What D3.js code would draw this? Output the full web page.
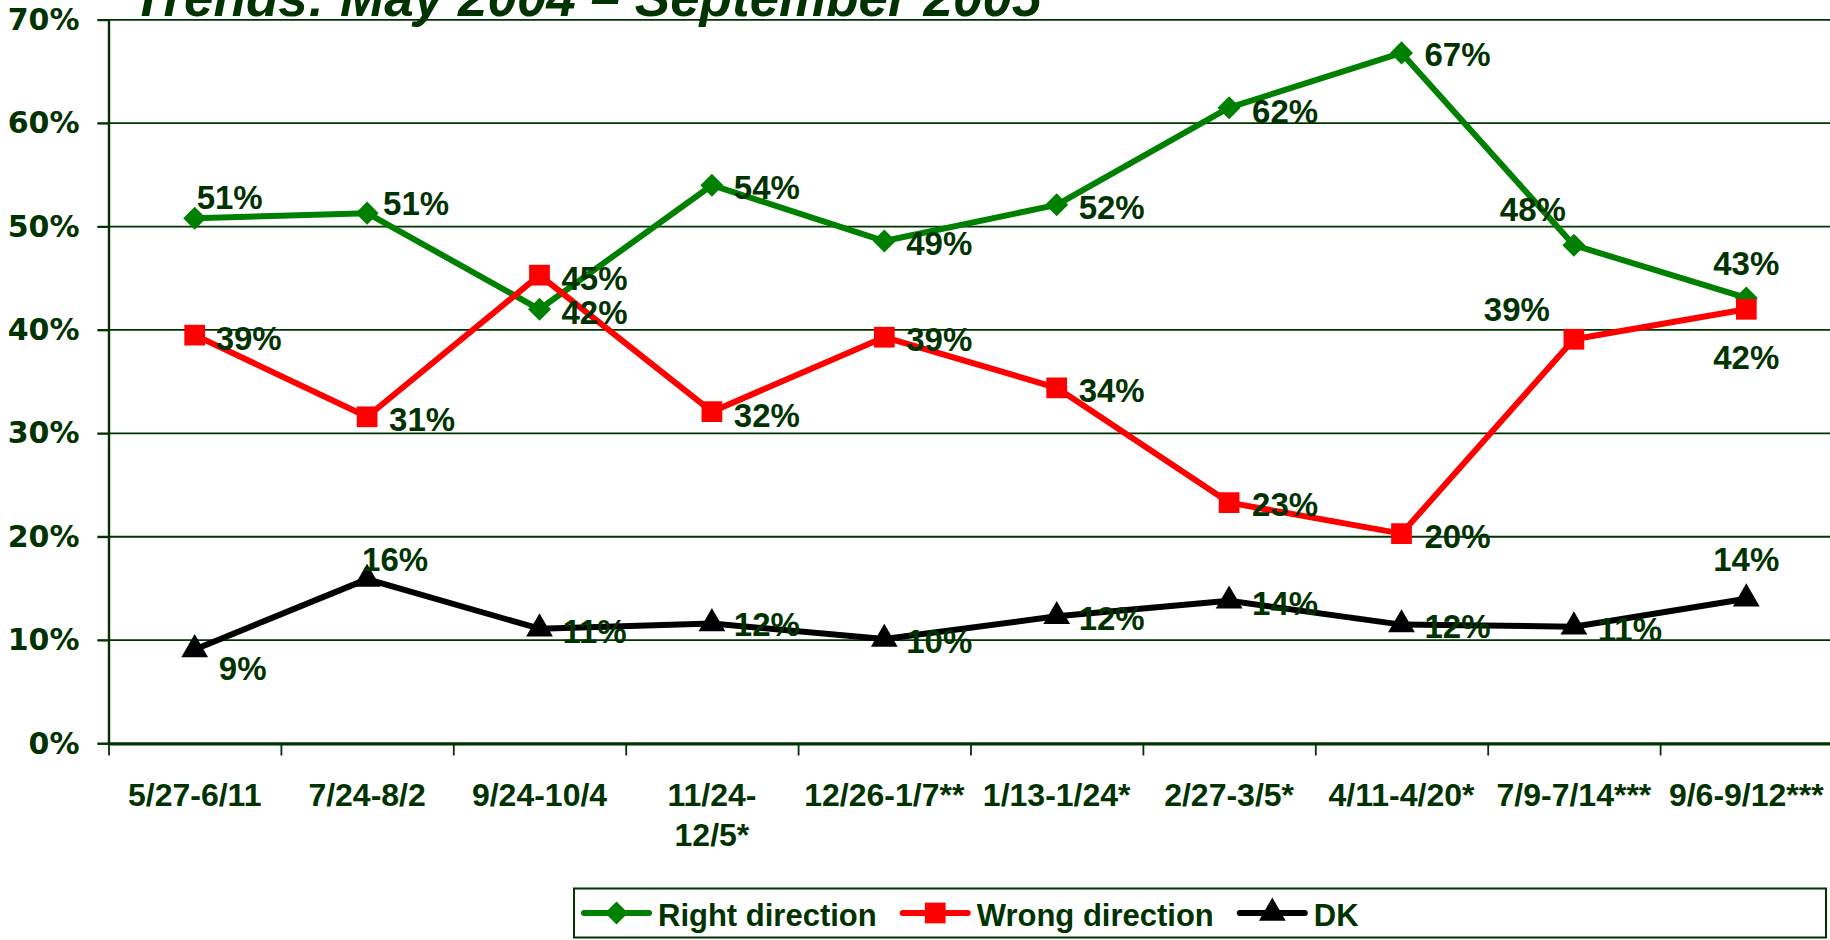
<!DOCTYPE html>
<html>
<head>
<meta charset="utf-8">
<script src="https://cdn.jsdelivr.net/npm/d3@7"></script>
<style>
body { margin: 0; background: #fff; }
svg { display: block; }
</style>
</head>
<body>
<div id="chart"></div>
<script>
// survey periods (x categories)
var categories = ["5/27-6/11", "7/24-8/2", "9/24-10/4", "11/24-\n12/5*", "12/26-1/7**",
                  "1/13-1/24*", "2/27-3/5*", "4/11-4/20*", "7/9-7/14***", "9/6-9/12***"];

// series values, in percent
var rightDir = [50.8, 51.3, 42.0, 54.0, 48.6, 52.1, 61.5, 66.8, 48.2, 43.1];
var wrongDir = [39.5, 31.6, 45.3, 32.1, 39.3, 34.4, 23.3, 20.3, 39.1, 42.0];
var dkVals   = [9.1, 15.9, 11.1, 11.6, 10.1, 12.3, 13.8, 11.5, 11.3, 14.0];

// data labels as printed on the chart
var rightLbl = ["51%", "51%", "42%", "54%", "49%", "52%", "62%", "67%", "48%", "43%"];
var wrongLbl = ["39%", "31%", "45%", "32%", "39%", "34%", "23%", "20%", "39%", "42%"];
var dkLbl    = ["9%", "16%", "11%", "12%", "10%", "12%", "14%", "12%", "11%", "14%"];

var yTicks = [0, 10, 20, 30, 40, 50, 60, 70];
var seriesNames = ["Right direction", "Wrong direction", "DK"];
var title = "Trends: May 2004 \u2013 September 2005";

// ---- layout / style ----
var w = 1830, h = 940;
var x0 = 108.5, x1 = 1832.5;
var yTop = 19.8, yBot = 743.5;
var textCol = "#003300";
var colors = ["#008000", "#ff0000", "#000000"];

// where each data label sits relative to its point [dx, dy]
var labelOffsets = [
	[[35,-21],[49,-10],[55,3],[55,2],[55,2],[55,2],[56,3],[56,1],[-41,-36],[0,-35]],
	[[54,3],[55,2],[55,3],[55,3],[55,2],[55,2],[56,2],[56,2],[-57,-30],[0,48]],
	[[48,19],[28,-20],[55,2],[55,1],[55,2],[55,2],[56,2],[56,2],[56,2],[0,-40]]
];

var series = [
	{ name: seriesNames[0], values: rightDir, labels: rightLbl, color: colors[0],
	  symbol: d3.symbol(d3.symbolSquare, 265), rot: 45 },
	{ name: seriesNames[1], values: wrongDir, labels: wrongLbl, color: colors[1],
	  symbol: d3.symbol(d3.symbolSquare, 430), rot: 0 },
	{ name: seriesNames[2], values: dkVals, labels: dkLbl, color: colors[2],
	  symbol: d3.symbol(d3.symbolTriangle, 310), rot: 0 }
];

var svg = d3.select("#chart").append("svg")
	.attr("width", w)
	.attr("height", h);

// scales
var xScale = d3.scaleBand().domain(categories).range([x0, x1]);
var xEdge = d3.scaleLinear().domain([0, categories.length]).range([x0, x1]);
var yScale = d3.scaleLinear().domain([0, 70]).range([yBot, yTop]);
var cx = function(i) { return xScale(categories[i]) + xScale.bandwidth() / 2; };

// gridlines
svg.append("g").selectAll("line")
	.data(yTicks)
	.enter()
	.append("line")
	.attr("x1", x0 - 11)
	.attr("x2", w)
	.attr("y1", function(d) { return yScale(d); })
	.attr("y2", function(d) { return yScale(d); })
	.attr("stroke", textCol)
	.attr("stroke-width", 1.8);

// y axis
var yAxis = svg.append("g")
	.attr("transform", "translate(" + x0 + ",0)")
	.call(d3.axisLeft(yScale).tickValues(yTicks).tickSize(11).tickSizeOuter(0)
		.tickPadding(18).tickFormat(function(d) { return d + "%"; }));
yAxis.select(".domain").attr("stroke", textCol).attr("stroke-width", 2.4);
yAxis.selectAll(".tick line").attr("stroke", textCol).attr("stroke-width", 1.8);
yAxis.selectAll(".tick text")
	.attr("fill", textCol)
	.style("font-family", "'DejaVu Sans', Verdana, sans-serif")
	.style("font-weight", "bold")
	.style("font-size", "30px");

// x axis (ticks at category boundaries)
var xAxis = svg.append("g")
	.attr("transform", "translate(0," + yBot + ")")
	.call(d3.axisBottom(xEdge).tickValues(d3.range(0, categories.length + 1))
		.tickSize(12).tickSizeOuter(0).tickFormat(""));
xAxis.select(".domain").attr("stroke", textCol).attr("stroke-width", 3);
xAxis.selectAll(".tick line").attr("stroke", textCol).attr("stroke-width", 1.8);

// x labels
var xl = svg.append("g").selectAll("text")
	.data(categories)
	.enter()
	.append("text")
	.attr("x", function(d, i) { return cx(i); })
	.attr("y", 806)
	.attr("text-anchor", "middle")
	.attr("fill", textCol)
	.style("font-family", "'Liberation Sans', Arial, sans-serif")
	.style("font-weight", "bold")
	.style("font-size", "32px");
xl.each(function(d) {
	var t = d3.select(this);
	d.split("\n").forEach(function(part, k) {
		t.append("tspan")
			.attr("x", t.attr("x"))
			.attr("dy", k == 0 ? 0 : 40)
			.text(part);
	});
});

// lines
var line = d3.line()
	.x(function(d, i) { return cx(i); })
	.y(function(d) { return yScale(d); });

series.forEach(function(s) {
	svg.append("path")
		.datum(s.values)
		.attr("d", line)
		.attr("fill", "none")
		.attr("stroke", s.color)
		.attr("stroke-width", 6)
		.attr("stroke-linejoin", "round");
	svg.append("g").selectAll("path")
		.data(s.values)
		.enter()
		.append("path")
		.attr("d", s.symbol)
		.attr("transform", function(d, i) {
			return "translate(" + cx(i) + "," + yScale(d) + ") rotate(" + s.rot + ")";
		})
		.attr("fill", s.color);
});

// data labels
series.forEach(function(s, si) {
	svg.append("g").selectAll("text")
		.data(s.values)
		.enter()
		.append("text")
		.attr("x", function(d, i) { return cx(i) + labelOffsets[si][i][0]; })
		.attr("y", function(d, i) { return yScale(d) + labelOffsets[si][i][1]; })
		.attr("dy", "0.36em")
		.attr("text-anchor", "middle")
		.attr("fill", textCol)
		.style("font-family", "'Liberation Sans', Arial, sans-serif")
		.style("font-weight", "bold")
		.style("font-size", "33px")
		.text(function(d, i) { return s.labels[i]; });
});

// title (partly cut off at the top, as in the original)
svg.append("text")
	.attr("x", 132)
	.attr("y", 16)
	.attr("fill", textCol)
	.style("font-family", "'Liberation Sans', Arial, sans-serif")
	.style("font-weight", "bold")
	.style("font-style", "italic")
	.style("font-size", "53px")
	.text(title);

// legend
var legend = svg.append("g");
legend.append("rect")
	.attr("x", 574)
	.attr("y", 888.5)
	.attr("width", 1252)
	.attr("height", 49)
	.attr("fill", "#fff")
	.attr("stroke", textCol)
	.attr("stroke-width", 2);

var lx = 584;
series.forEach(function(s) {
	var item = legend.append("g");
	item.append("line")
		.attr("x1", lx).attr("x2", lx + 65)
		.attr("y1", 913).attr("y2", 913)
		.attr("stroke", s.color)
		.attr("stroke-width", 6)
		.attr("stroke-linecap", "round");
	item.append("path")
		.attr("d", s.symbol)
		.attr("transform", "translate(" + (lx + 32.5) + ",913) rotate(" + s.rot + ")")
		.attr("fill", s.color);
	var t = item.append("text")
		.attr("x", lx + 74)
		.attr("y", 926)
		.attr("fill", textCol)
		.style("font-family", "'Liberation Sans', Arial, sans-serif")
		.style("font-weight", "bold")
		.style("font-size", "31px")
		.text(s.name);
	lx = lx + 74 + t.node().getComputedTextLength() + 26;
});
</script>
</body>
</html>
